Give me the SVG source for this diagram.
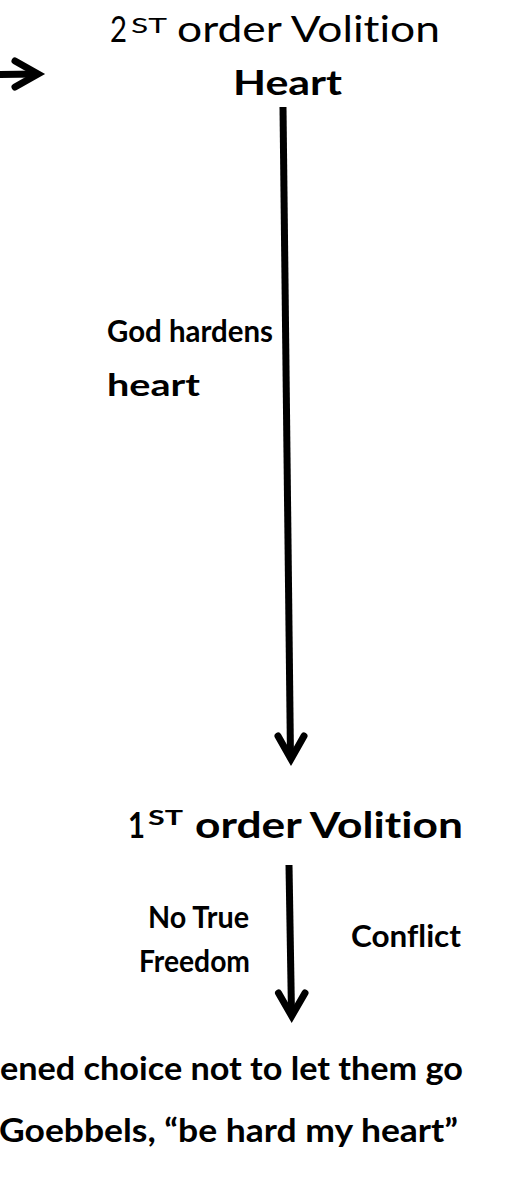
<svg xmlns="http://www.w3.org/2000/svg" width="509" height="1181" viewBox="0 0 509 1181">
<style>
  .t { font-family: Lato, "Open Sans", "Liberation Sans", sans-serif; fill: #000; font-variant-ligatures: none; font-feature-settings: "liga" 0, "clig" 0; }
  .r { font-weight: 400; }
  .b { font-weight: 700; }
  .ln { stroke: #000; stroke-width: 7; fill: none; stroke-linecap: butt; }
  .hd { stroke: #000; stroke-width: 7; fill: none; stroke-linecap: round; stroke-linejoin: miter; stroke-miterlimit: 10; }
</style>
<rect width="509" height="1181" fill="#fff"/>
<g id="connectors">
  <line class="ln" x1="-5" y1="74.5" x2="37" y2="74"/>
  <polyline class="hd" points="15,61 38,74 15,87"/>
  <line class="ln" x1="283" y1="107" x2="290.5" y2="758"/>
  <polyline class="hd" points="278,736 291,759 304,736"/>
  <line class="ln" x1="289" y1="865" x2="291.5" y2="1014"/>
  <polyline class="hd" points="278.5,993 291.7,1016 305,993"/>
</g>
<g id="second-order">
  <text class="t r" y="42"><tspan x="110" font-size="37" textLength="17" lengthAdjust="spacingAndGlyphs">2</tspan><tspan x="131" y="33" font-size="22" textLength="36" lengthAdjust="spacingAndGlyphs">ST</tspan><tspan x="177" y="42" font-size="37" textLength="263" lengthAdjust="spacingAndGlyphs">order Volition</tspan></text>
</g>
<g id="heart">
  <text class="t b" x="233" y="95" font-size="35" textLength="109" lengthAdjust="spacingAndGlyphs">Heart</text>
</g>
<g id="god-hardens">
  <text class="t b" x="107" y="342" font-size="31" textLength="166" lengthAdjust="spacingAndGlyphs">God hardens</text>
  <text class="t b" x="107" y="396" font-size="31" textLength="93" lengthAdjust="spacingAndGlyphs">heart</text>
</g>
<g id="first-order">
  <text class="t b" y="838"><tspan x="128" font-size="37" textLength="17" lengthAdjust="spacingAndGlyphs">1</tspan><tspan x="148" y="825" font-size="21" textLength="35" lengthAdjust="spacingAndGlyphs">ST</tspan><tspan x="195" y="838" font-size="37" textLength="268" lengthAdjust="spacingAndGlyphs">order Volition</tspan></text>
</g>
<g id="no-true-freedom">
  <text class="t b" x="148" y="928" font-size="30" textLength="101" lengthAdjust="spacingAndGlyphs">No True</text>
  <text class="t b" x="139" y="972" font-size="30" textLength="111" lengthAdjust="spacingAndGlyphs">Freedom</text>
</g>
<g id="conflict">
  <text class="t b" x="351" y="947" font-size="30" textLength="110" lengthAdjust="spacingAndGlyphs">Conflict</text>
</g>
<g id="hardened-choice">
  <text class="t b" x="0" y="1080" font-size="33" textLength="463" lengthAdjust="spacingAndGlyphs">ened choice not to let them go</text>
</g>
<g id="goebbels">
  <text class="t b" x="-1" y="1142" font-size="33" textLength="459" lengthAdjust="spacingAndGlyphs">Goebbels, “be hard my heart”</text>
</g>
</svg>
